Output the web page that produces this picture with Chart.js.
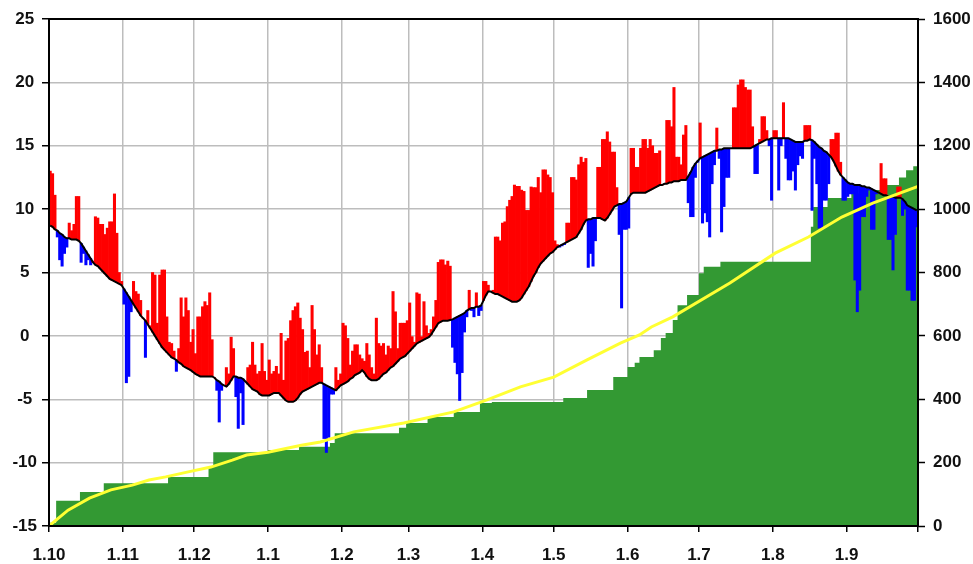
<!DOCTYPE html>
<html><head><meta charset="utf-8">
<script src="https://cdn.jsdelivr.net/npm/chart.js@4/dist/chart.umd.min.js"></script>
<style>html,body{margin:0;padding:0;background:#fff;}#wrap{width:973px;height:564px;}</style>
</head><body><div id="wrap"><canvas id="c" width="973" height="564"></canvas></div>
<script>
// x-axis month labels and their start day (day index from 1 Oct)
const monthLabels = ['1.10','1.11','1.12','1.1','1.2','1.3','1.4','1.5','1.6','1.7','1.8','1.9',''];
const monthStartDays = [0,31,61,92,123,151,182,212,243,273,304,335,365];

// daily normal temperature (black line), Oct..Sep
const normalTemp = [
 8.7,8.6,8.4,8.3,8.1,8.0,7.8,7.7,7.7,7.6,7.6,7.6,7.5,7.3,7.0,6.7,6.4,6.1,5.8,5.6,5.5,5.3,5.1,4.9,4.7,4.5,4.4,4.3,4.2,4.1,4.0,
 3.7,3.4,3.1,2.8,2.5,2.2,1.9,1.6,1.4,1.2,0.9,0.6,0.3,0.0,-0.3,-0.6,-0.9,-1.1,-1.3,-1.5,-1.7,-1.8,-1.9,-2.1,-2.2,-2.4,-2.5,-2.6,-2.7,-2.85,
 -3.0,-3.1,-3.2,-3.2,-3.2,-3.2,-3.2,-3.2,-3.3,-3.5,-3.6,-3.8,-3.9,-4.0,-3.8,-3.5,-3.2,-3.2,-3.3,-3.3,-3.4,-3.6,-3.8,-4.0,-4.2,-4.3,-4.4,-4.6,-4.7,-4.7,-4.7,
 -4.7,-4.6,-4.5,-4.5,-4.5,-4.7,-4.9,-5.1,-5.2,-5.2,-5.2,-5.1,-4.9,-4.6,-4.4,-4.3,-4.2,-4.1,-4.0,-3.9,-3.8,-3.7,-3.7,-3.8,-3.9,-4.0,-4.1,-4.2,-4.3,-4.1,-3.9,
 -3.8,-3.7,-3.6,-3.4,-3.3,-3.1,-3.0,-2.9,-2.7,-2.9,-3.2,-3.4,-3.5,-3.5,-3.5,-3.4,-3.2,-3.0,-2.9,-2.7,-2.5,-2.4,-2.2,-2.0,-1.8,-1.7,-1.6,-1.4,
 -1.2,-1.0,-0.8,-0.6,-0.5,-0.4,-0.3,-0.2,-0.1,0.1,0.4,0.7,1.0,1.1,1.2,1.2,1.2,1.25,1.3,1.4,1.5,1.6,1.7,1.8,2.0,2.1,2.2,2.2,2.3,2.3,2.4,
 2.8,3.2,3.5,3.5,3.4,3.3,3.3,3.2,3.1,3.0,2.9,2.8,2.7,2.7,2.7,2.8,3.0,3.3,3.6,3.9,4.3,4.7,5.0,5.4,5.7,5.9,6.1,6.3,6.5,6.6,
 6.8,7.0,7.1,7.2,7.3,7.4,7.5,7.6,7.7,7.8,8.1,8.4,8.8,9.1,9.2,9.2,9.3,9.3,9.3,9.3,9.2,9.1,9.3,9.6,9.9,10.2,10.3,10.4,10.4,10.5,10.6,
 10.9,11.2,11.3,11.3,11.3,11.3,11.3,11.3,11.4,11.5,11.6,11.7,11.8,11.9,11.9,12.0,12.0,12.1,12.1,12.2,12.2,12.2,12.3,12.3,12.3,12.6,12.9,13.3,13.6,13.8,
 14.0,14.1,14.2,14.3,14.4,14.5,14.6,14.6,14.7,14.7,14.8,14.8,14.8,14.8,14.8,14.8,14.8,14.8,14.8,14.8,14.8,14.8,14.9,15.0,15.1,15.2,15.3,15.4,15.5,15.5,15.6,
 15.6,15.6,15.6,15.6,15.6,15.6,15.6,15.5,15.4,15.3,15.3,15.3,15.3,15.4,15.4,15.5,15.45,15.3,15.1,14.9,14.8,14.6,14.5,14.3,14.1,13.8,13.4,13.0,12.7,12.5,12.3,
 12.1,12.0,12.0,11.9,11.9,11.9,11.8,11.8,11.7,11.7,11.6,11.5,11.4,11.3,11.2,11.1,11.1,11.0,11.0,11.0,10.9,10.9,10.9,10.8,10.6,10.3,10.2,10.1,10.0,9.9
];

// daily actual temperature (top/bottom of the red/blue bars)
const actualTemp = [
 13.0,12.8,11.1,7.8,6.0,5.5,6.5,7.0,8.9,8.3,8.8,11.0,11.0,5.8,6.5,5.6,6.0,5.6,5.9,9.4,9.3,8.8,8.8,8.0,8.5,9.0,9.0,11.2,8.1,5.0,4.3,
 2.5,-3.7,-3.2,1.9,4.3,3.5,3.3,2.8,1.4,-1.7,2.0,0.8,5.0,4.8,1.0,4.8,5.2,5.2,1.5,-0.5,-0.6,-1.2,-2.8,-1.0,3.0,1.5,3.0,2.0,-0.5,0.5,
 -1.4,1.5,1.5,2.3,2.7,2.4,3.4,-0.3,-3.3,-4.3,-6.8,-4.3,-3.9,-2.5,-3.0,-0.1,-1.0,-4.8,-7.3,-4.5,-7.0,-3.6,-2.5,-2.3,-0.5,-2.3,-3.0,-2.8,-0.6,-2.8,-3.5,
 -1.9,-3.0,-2.8,-2.4,-3.0,0.2,-3.5,-0.4,-0.2,1.2,2.0,2.3,2.6,1.4,0.5,-1.3,-1.2,-2.5,2.4,0.5,-1.5,-0.7,-2.5,-8.1,-9.2,-8.0,-4.6,-4.6,-2.5,-3.5,-3.0,
 1.0,0.8,-0.2,-2.3,-1.2,-0.7,-0.7,-1.5,-1.8,-2.0,-0.6,-1.5,-2.5,-3.0,1.4,-0.6,-0.8,-0.6,-1.5,-0.8,-1.0,3.5,1.9,-1.0,1.0,1.0,1.0,1.2,
 2.6,0.0,-0.5,3.4,3.3,0.0,2.7,0.8,0.2,0.5,1.5,2.8,5.8,6.0,6.0,5.6,5.9,5.5,-0.9,-2.1,-3.0,-5.1,-2.9,0.3,1.5,3.6,2.0,1.5,3.4,1.6,2.0,
 4.3,4.3,4.0,3.5,3.6,7.8,7.8,7.5,8.9,9.0,10.2,10.7,11.0,11.9,11.8,11.8,11.5,11.4,9.9,9.9,11.75,11.7,11.7,12.5,11.3,13.1,13.1,12.7,12.5,11.3,
 7.5,7.2,7.0,7.1,7.2,8.9,8.9,12.5,12.5,12.3,13.5,14.1,13.7,14.0,5.4,6.5,5.5,7.5,13.3,13.3,15.5,15.5,16.1,15.3,14.5,14.5,11.7,8.0,2.2,8.4,8.4,
 8.5,14.8,14.8,13.3,13.3,14.8,15.5,15.5,14.8,15.5,15.0,14.4,14.4,14.6,11.9,12.0,17.0,17.0,16.5,19.6,14.1,14.1,13.5,15.85,16.6,10.5,9.4,9.4,12.5,13.7,
 16.8,8.9,9.7,9.0,7.8,12.0,13.5,16.4,14.0,8.2,10.2,12.5,12.5,14.8,18.0,18.0,19.8,20.2,20.2,19.6,19.4,19.4,16.5,12.8,12.8,15.5,17.3,17.3,16.2,15.0,10.7,
 16.2,16.2,11.5,15.0,18.4,14.0,12.3,12.3,13.0,11.5,13.5,14.2,14.0,16.6,16.6,16.6,9.9,14.0,12.0,8.5,8.5,10.7,10.7,12.0,15.5,15.5,16.0,16.0,13.7,10.7,10.7,
 11.0,11.2,11.2,4.4,1.9,3.6,9.4,9.4,11.0,11.5,8.4,8.4,11.2,11.3,13.6,12.4,12.4,7.6,7.6,5.2,8.0,11.75,11.75,9.5,10.0,3.6,3.6,2.8,2.8,8.6
];

// cumulative precipitation (green steps): day of change and new total
const precipDays   = [0, 3, 13, 23, 50, 67, 69, 92, 105, 118, 120, 147, 150, 159, 170, 181, 186, 216, 226, 237, 243, 246, 248, 254, 257, 259, 262, 264, 268, 273, 275, 282, 320, 321, 327, 337, 342, 350, 357, 360, 363, 365];
const precipTotals = [10, 80, 107, 135, 155, 186, 233, 240, 250, 262, 293, 310, 325, 344, 360, 388, 391, 404, 429, 470, 502, 515, 533, 555, 593, 609, 650, 697, 729, 798, 818, 834, 944, 1007, 1035, 1050, 1060, 1076, 1100, 1123, 1135, 1135];

// normal cumulative precipitation (yellow line)
const normalPrecipDays   = [0, 8, 17, 26, 35, 42, 49, 58, 68, 77, 83, 92, 106, 114, 128, 149, 170, 184, 198, 212, 226, 240, 248, 253, 262, 286, 305, 319, 333, 346, 365];
const normalPrecipTotals = [0, 50, 88, 114, 129, 145, 155, 170, 186, 208, 224, 233, 255, 265, 297, 325, 360, 398, 439, 470, 524, 577, 603, 628, 660, 767, 861, 912, 975, 1019, 1072];

const RED = '#ff0000', BLUE = '#0000ff';
const FONT = {family: "'Liberation Sans', Arial, sans-serif", size: 17, weight: 'bold'};

const barData = actualTemp.map((v, i) => ({x: i + 0.5, y: [normalTemp[i], v]}));
const normalData = normalTemp.map((v, i) => ({x: i + 0.5, y: v}));
const precipData = precipDays.map((d, i) => ({x: d, y: precipTotals[i]}));
const normPrecipData = normalPrecipDays.map((d, i) => ({x: d, y: normalPrecipTotals[i]}));

const borderPlugin = {
  id: 'frame',
  afterDatasetsDraw(chart) {
    const {ctx, chartArea: a} = chart;
    ctx.save();
    ctx.strokeStyle = '#000';
    ctx.lineWidth = 2;
    ctx.strokeRect(a.left, a.top, a.right - a.left, a.bottom - a.top);
    ctx.restore();
  }
};

new Chart(document.getElementById('c'), {
  type: 'bar',
  data: {
    datasets: [
      {
        type: 'line', label: 'normal precipitation', data: normPrecipData, yAxisID: 'y2',
        borderColor: '#ffff33', borderWidth: 3, pointRadius: 0, fill: false, tension: 0, order: 0
      },
      {
        type: 'line', label: 'normal temperature', data: normalData, yAxisID: 'y',
        borderColor: '#000000', borderWidth: 2, pointRadius: 0, fill: false, tension: 0, order: 1
      },
      {
        type: 'bar', label: 'temperature', data: barData, yAxisID: 'y',
        backgroundColor: ctx => { const r = ctx.raw; return (r && r.y[1] >= r.y[0]) ? RED : BLUE; },
        borderWidth: 0, barPercentage: 1, categoryPercentage: 1, order: 2
      },
      {
        type: 'line', label: 'precipitation', data: precipData, yAxisID: 'y2',
        stepped: 'before', borderWidth: 0, borderColor: 'rgba(0,0,0,0)', backgroundColor: '#339933',
        pointRadius: 0, fill: 'start', order: 3
      }
    ]
  },
  options: {
    responsive: false,
    animation: false,
    devicePixelRatio: 1,
    layout: {padding: {top: 19, right: 0, bottom: 0, left: 0}},
    plugins: {legend: {display: false}, tooltip: {enabled: false}},
    scales: {
      x: {
        type: 'linear', min: 0, max: 365, offset: false,
        afterBuildTicks: s => { s.ticks = monthStartDays.map(v => ({value: v})); },
        afterFit: s => { s.height = 38; },
        ticks: {
          autoSkip: false, maxRotation: 0, padding: 13, color: '#111', font: FONT,
          callback: (v, i) => monthLabels[monthStartDays.indexOf(v)]
        },
        grid: {offset: false, color: '#bdbdbd', lineWidth: 1.5, tickLength: 6, tickColor: '#000', tickWidth: 1.5},
        border: {display: false}
      },
      y: {
        position: 'left', min: -15, max: 25,
        afterFit: s => { s.width = 49; },
        ticks: {stepSize: 5, crossAlign: 'center', padding: 5, color: '#111', font: FONT},
        grid: {color: '#bdbdbd', lineWidth: 1.5, tickLength: 7, tickColor: '#000', tickWidth: 1.5},
        border: {display: false}
      },
      y2: {
        position: 'right', min: 0, max: 1600,
        afterFit: s => { s.width = 55; },
        ticks: {stepSize: 200, padding: 8, color: '#111', font: FONT, callback: v => String(v)},
        grid: {drawOnChartArea: false, tickLength: 7, tickColor: '#000', tickWidth: 1.5},
        border: {display: false}
      }
    }
  },
  plugins: [borderPlugin]
});
</script>
</body></html>
